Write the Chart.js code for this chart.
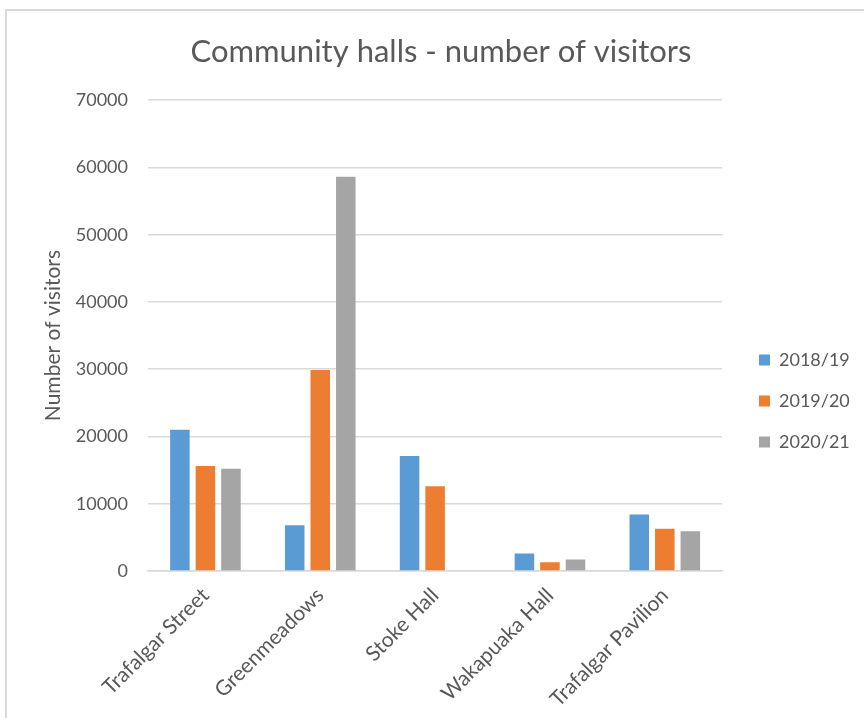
<!DOCTYPE html>
<html>
<head>
<meta charset="utf-8">
<script src="https://cdn.jsdelivr.net/npm/chart.js@4.4.0/dist/chart.umd.min.js"></script>
<style>
    html, body { margin: 0; padding: 0; background: #fff; }
    .frame { position: absolute; left: 5px; top: 9px; width: 900px; height: 800px; border-left: 2px solid #d9d9d9; border-top: 2px solid #d9d9d9; }
    #chart { position: absolute; left: 0; top: 0; }
</style>
</head>
<body>
<div class="frame"></div>
<canvas id="chart" width="864" height="718"></canvas>
<script>
const halls = ['Trafalgar Street', 'Greenmeadows', 'Stoke Hall', 'Wakapuaka Hall', 'Trafalgar Pavilion'];
const years = ['2018/19', '2019/20', '2020/21'];
const visitors1819 = [21000, 6800, 17100, 2600, 8400];
const visitors1920 = [15600, 29900, 12600, 1300, 6300];
const visitors2021 = [15200, 58600, 0, 1700, 5900];
const yTicks = [0, 10000, 20000, 30000, 40000, 50000, 60000, 70000];
const colors = ['#5B9BD5', '#ED7D31', '#A5A5A5'];

const font = 'Lato';
const textColor = '#595959';

// moves the legend next to the plot, like the Excel original
const legendShift = {
    id: 'legendShift',
    afterLayout(chart) {
        const lg = chart.legend;
        const dx = 759 - (lg.left + lg.options.labels.padding);
        const dy = 401 - (lg.top + lg.bottom) / 2;
        lg.left += dx; lg.right += dx;
        lg.top += dy; lg.bottom += dy;
    }
};

new Chart(document.getElementById('chart'), {
    type: 'bar',
    data: {
        labels: halls,
        datasets: [visitors1819, visitors1920, visitors2021].map((d, i) => ({
            label: years[i],
            data: d,
            backgroundColor: colors[i],
            categoryPercentage: 0.667,
            barPercentage: 0.765
        }))
    },
    options: {
        responsive: false,
        animation: false,
        layout: { padding: { left: 36, right: 18, top: 0, bottom: 0 } },
        plugins: {
            title: {
                display: true,
                text: 'Community halls - number of visitors',
                color: textColor,
                font: { family: font, size: 31, weight: 'normal', lineHeight: 1.2 },
                padding: { top: 33, bottom: 30 }
            },
            legend: {
                position: 'right',
                labels: {
                    boxWidth: 11,
                    boxHeight: 11,
                    padding: 23,
                    color: textColor,
                    font: { family: font, size: 18 }
                }
            },
            tooltip: { enabled: false }
        },
        scales: {
            x: {
                grid: { display: false },
                border: { display: true, color: '#d9d9d9', width: 1.5 },
                ticks: {
                    color: textColor,
                    font: { family: font, size: 21 },
                    minRotation: 45,
                    maxRotation: 45,
                    padding: 4
                },
                afterFit: s => { s.height = 147; }
            },
            y: {
                min: 0,
                max: 70000,
                afterBuildTicks: s => { s.ticks = yTicks.map(v => ({ value: v })); },
                grid: { color: '#d9d9d9', lineWidth: 1.5, drawTicks: false },
                border: { display: false },
                ticks: {
                    color: textColor,
                    font: { family: font, size: 18 },
                    padding: 20,
                    callback: v => String(v)
                },
                title: {
                    display: true,
                    text: 'Number of visitors',
                    color: textColor,
                    font: { family: font, size: 21 },
                    padding: { top: 5, bottom: 0 }
                },
                afterFit: s => { s.width = 112; }
            }
        }
    },
    plugins: [legendShift]
});
</script>
</body>
</html>
